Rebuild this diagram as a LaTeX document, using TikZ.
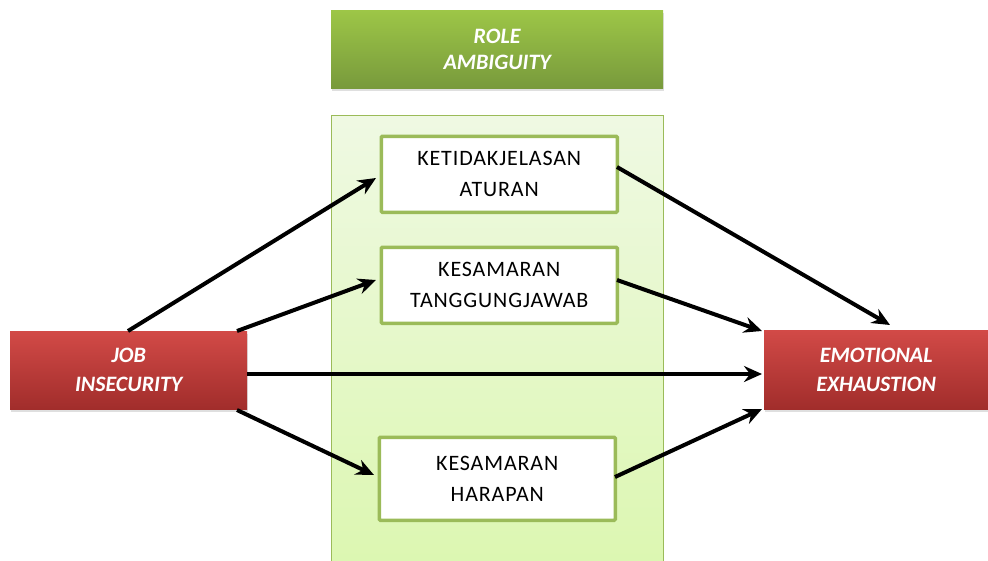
\documentclass[tikz,border=0pt]{standalone}
\usepackage{fontspec}
\setmainfont{Carlito}
\usetikzlibrary{arrows.meta,shadows}
\definecolor{rtop}{HTML}{D24A47}
\definecolor{rbot}{HTML}{A12D2B}
\definecolor{gtop}{HTML}{9DC647}
\definecolor{gbot}{HTML}{789A3C}
\definecolor{ptop}{HTML}{EFF9E3}
\definecolor{pbot}{HTML}{DCF7B1}
\definecolor{gborder}{HTML}{9BBB59}
\tikzset{
  redbox/.style={rectangle, top color=rtop, bottom color=rbot, draw=none,
    text=white, font=\fontsize{22}{29}\selectfont\bfseries\itshape, align=center,
    drop shadow={shadow xshift=1pt, shadow yshift=-3pt, opacity=0.25}},
  greenbox/.style={rectangle, top color=gtop, bottom color=gbot, draw=none,
    text=white, font=\fontsize{22}{26}\selectfont\bfseries\itshape, align=center,
    drop shadow={shadow xshift=1pt, shadow yshift=-3pt, opacity=0.25}},
  panel/.style={rectangle, top color=ptop, bottom color=pbot, draw=gborder, line width=1pt},
  itembox/.style={rectangle, fill=white, draw=gborder, line width=3.5pt, rounded corners=1pt,
    font=\fontsize{22}{31}\selectfont\addfontfeature{LetterSpace=4}, align=center, text=black},
  conn/.style={line width=4pt, -{Stealth[length=18pt,width=16pt,inset=6pt]}}
}
\begin{document}
\begin{tikzpicture}[x=1pt,y=-1pt]
\useasboundingbox (0,0) rectangle (988,560);
\node[panel, minimum width=332pt, minimum height=450pt, anchor=north west] (pan) at (331,115) {};
\node[greenbox, minimum width=332pt, minimum height=78pt, anchor=north west] (role) at (331,10) {ROLE\\AMBIGUITY};
\node[itembox, minimum width=236pt, minimum height=76pt, anchor=north west] (b1) at (379.5,134.5) {KETIDAKJELASAN\\ATURAN};
\node[itembox, minimum width=236pt, minimum height=76pt, anchor=north west] (b2) at (379.5,245.5) {KESAMARAN\\TANGGUNGJAWAB};
\node[itembox, minimum width=236pt, minimum height=83pt, anchor=north west] (b3) at (377.5,435.5) {KESAMARAN\\HARAPAN};
\node[redbox, minimum width=237pt, minimum height=78pt, anchor=north west] (job) at (10,331) {JOB\\INSECURITY};
\node[redbox, minimum width=224pt, minimum height=79pt, anchor=north west] (ee) at (764,330) {EMOTIONAL\\EXHAUSTION};
\coordinate (j1) at (128,331);
\coordinate (j2) at (237,331);
\coordinate (j3) at (247,374);
\coordinate (j4) at (237,410);
\coordinate (e1) at (890,325);
\coordinate (e2) at (762,331);
\coordinate (e3) at (762,374);
\coordinate (e4) at (762,409);
\coordinate (b1l) at (376,178);
\coordinate (b2l) at (376,280);
\coordinate (b3l) at (374,475);
\coordinate (b1r) at (617,167);
\coordinate (b2r) at (617,280);
\coordinate (b3r) at (615,477);
\draw[conn] (j1) -- (b1l);
\draw[conn] (j2) -- (b2l);
\draw[conn] (j3) -- (e3);
\draw[conn] (j4) -- (b3l);
\draw[conn] (b1r) -- (e1);
\draw[conn] (b2r) -- (e2);
\draw[conn] (b3r) -- (e4);
\end{tikzpicture}
\end{document}
